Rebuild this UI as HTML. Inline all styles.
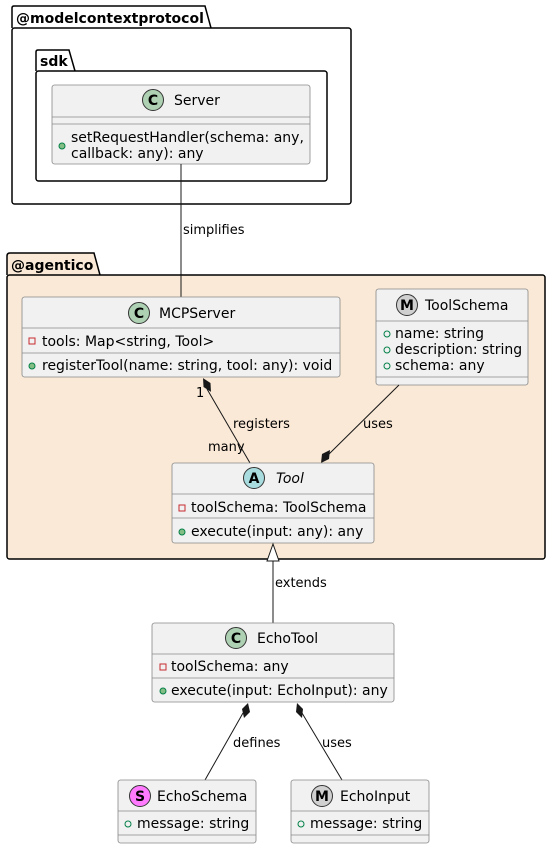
<!DOCTYPE html>
<html><head><meta charset="utf-8"><style>
html,body{margin:0;padding:0;background:#fff;width:551px;height:849px;overflow:hidden}
svg text{font-family:"DejaVu Sans","Liberation Sans",sans-serif;fill:#000}
.n{font-size:14px}.m{font-size:14px}.l{font-size:13px}.p{font-size:14px;font-weight:bold}
</style></head><body>
<svg width="551" height="849" viewBox="0 0 551 849" xmlns="http://www.w3.org/2000/svg">
<path d="M12,28 L12,8 Q12,6 14,6 L205,6 L211,28" fill="#fff" stroke="#000" stroke-width="1.5"/>
<rect x="12" y="28" width="339" height="176" rx="2.5" fill="#fff" stroke="#000" stroke-width="1.5"/>
<text x="16" y="23" class="p">@modelcontextprotocol</text>
<path d="M36,71 L36,52 Q36,50 38,50 L69,50 L75,71" fill="#fff" stroke="#000" stroke-width="1.5"/>
<rect x="36" y="71" width="291" height="110" rx="2.5" fill="#fff" stroke="#000" stroke-width="1.5"/>
<text x="40" y="66" class="p">sdk</text>
<rect x="52" y="85" width="258" height="79" rx="2.5" fill="#f1f1f1" stroke="#888" stroke-width="0.8"/>
<line x1="52" y1="117" x2="310" y2="117" stroke="#888" stroke-width="0.8"/>
<line x1="52" y1="124" x2="310" y2="124" stroke="#888" stroke-width="0.8"/>
<circle cx="153" cy="100" r="10.5" fill="#add1b2" stroke="#333" stroke-width="1"/>
<text x="153" y="105" class="n" text-anchor="middle" font-weight="bold">C</text>
<text x="174" y="105" class="n">Server</text>
<circle cx="62" cy="146" r="3" fill="#84be84" stroke="#038048" stroke-width="1"/>
<text x="71" y="142" class="m">setRequestHandler(schema: any,</text>
<text x="71" y="158" class="m">callback: any): any</text>
<line x1="181" y1="164" x2="181" y2="297" stroke="#181818" stroke-width="1"/>
<text x="183" y="234" class="l">simplifies</text>
<path d="M7,275 L7,256 Q7,253 10,253 L94,253 L100,275" fill="#fae9d6" stroke="#000" stroke-width="1.5"/>
<rect x="7" y="275" width="538" height="284" rx="2.5" fill="#fae9d6" stroke="#000" stroke-width="1.5"/>
<text x="11" y="270" class="p">@agentico</text>
<line x1="181" y1="275" x2="181" y2="297" stroke="#181818" stroke-width="1"/>
<rect x="22" y="297" width="318" height="80" rx="2.5" fill="#f1f1f1" stroke="#888" stroke-width="0.8"/>
<line x1="22" y1="328" x2="340" y2="328" stroke="#888" stroke-width="0.8"/>
<line x1="22" y1="353" x2="340" y2="353" stroke="#888" stroke-width="0.8"/>
<circle cx="139" cy="313" r="10.5" fill="#add1b2" stroke="#333" stroke-width="1"/>
<text x="139" y="318" class="n" text-anchor="middle" font-weight="bold">C</text>
<text x="159" y="318" class="n">MCPServer</text>
<rect x="29" y="338" width="6" height="6" fill="none" stroke="#c82930" stroke-width="1"/>
<text x="42" y="346" class="m">tools: Map&lt;string, Tool&gt;</text>
<circle cx="32" cy="366" r="3" fill="#84be84" stroke="#038048" stroke-width="1"/>
<text x="42" y="370" class="m">registerTool(name: string, tool: any): void</text>
<rect x="376" y="289" width="152" height="96" rx="2.5" fill="#f1f1f1" stroke="#888" stroke-width="0.8"/>
<line x1="376" y1="321" x2="528" y2="321" stroke="#888" stroke-width="0.8"/>
<line x1="376" y1="377" x2="528" y2="377" stroke="#888" stroke-width="0.8"/>
<circle cx="407" cy="305" r="10.5" fill="#d0d0d0" stroke="#333" stroke-width="1"/>
<text x="407" y="310" class="n" text-anchor="middle" font-weight="bold">M</text>
<text x="425" y="310" class="n">ToolSchema</text>
<circle cx="387" cy="334" r="3" fill="none" stroke="#038048" stroke-width="1"/>
<text x="395" y="338" class="m">name: string</text>
<circle cx="387" cy="350" r="3" fill="none" stroke="#038048" stroke-width="1"/>
<text x="395" y="354" class="m">description: string</text>
<circle cx="387" cy="366" r="3" fill="none" stroke="#038048" stroke-width="1"/>
<text x="395" y="370" class="m">schema: any</text>
<line x1="207" y1="389" x2="250" y2="463" stroke="#181818" stroke-width="1"/>
<polygon points="207,377 211,385 207,393 203,385" fill="#181818" transform="rotate(-30 207 385)"/>
<text x="196" y="397" class="l">1</text>
<text x="233" y="428" class="l">registers</text>
<text x="208" y="451" class="l">many</text>
<line x1="399" y1="385" x2="327" y2="456" stroke="#181818" stroke-width="1"/>
<polygon points="321,463 322,454 330,450 329,459" fill="#181818"/>
<text x="363" y="428" class="l">uses</text>
<rect x="172" y="463" width="202" height="80" rx="2.5" fill="#f1f1f1" stroke="#888" stroke-width="0.8"/>
<line x1="172" y1="494" x2="374" y2="494" stroke="#888" stroke-width="0.8"/>
<line x1="172" y1="518" x2="374" y2="518" stroke="#888" stroke-width="0.8"/>
<circle cx="254" cy="478" r="10.5" fill="#a9dcdf" stroke="#333" stroke-width="1"/>
<text x="254" y="483" class="n" text-anchor="middle" font-weight="bold">A</text>
<text x="276" y="483" class="n" font-style="italic">Tool</text>
<rect x="179" y="505" width="6" height="6" fill="none" stroke="#c82930" stroke-width="1"/>
<text x="191" y="512" class="m">toolSchema: ToolSchema</text>
<circle cx="182" cy="532" r="3" fill="#84be84" stroke="#038048" stroke-width="1"/>
<text x="191" y="536" class="m">execute(input: any): any</text>
<polygon points="273,544 267,561 279,561" fill="#fff" stroke="#181818" stroke-width="1"/>
<line x1="273" y1="561" x2="273" y2="623" stroke="#181818" stroke-width="1"/>
<text x="275" y="587" class="l">extends</text>
<rect x="152" y="623" width="242" height="79" rx="2.5" fill="#f1f1f1" stroke="#888" stroke-width="0.8"/>
<line x1="152" y1="654" x2="394" y2="654" stroke="#888" stroke-width="0.8"/>
<line x1="152" y1="678" x2="394" y2="678" stroke="#888" stroke-width="0.8"/>
<circle cx="236" cy="638" r="10.5" fill="#add1b2" stroke="#333" stroke-width="1"/>
<text x="236" y="643" class="n" text-anchor="middle" font-weight="bold">C</text>
<text x="257" y="643" class="n">EchoTool</text>
<rect x="160" y="664" width="6" height="6" fill="none" stroke="#c82930" stroke-width="1"/>
<text x="171" y="671" class="m">toolSchema: any</text>
<circle cx="163" cy="691" r="3" fill="#84be84" stroke="#038048" stroke-width="1"/>
<text x="171" y="695" class="m">execute(input: EchoInput): any</text>
<line x1="243" y1="713" x2="205" y2="780" stroke="#181818" stroke-width="1"/>
<polygon points="248,703 250,712 244,718 242,709" fill="#181818"/>
<text x="233" y="747" class="l">defines</text>
<line x1="302" y1="713" x2="342" y2="780" stroke="#181818" stroke-width="1"/>
<polygon points="297,703 303,709 302,718 296,712" fill="#181818"/>
<text x="322" y="747" class="l">uses</text>
<rect x="118" y="780" width="138" height="63" rx="2.5" fill="#f1f1f1" stroke="#888" stroke-width="0.8"/>
<line x1="118" y1="811" x2="256" y2="811" stroke="#888" stroke-width="0.8"/>
<line x1="118" y1="835" x2="256" y2="835" stroke="#888" stroke-width="0.8"/>
<circle cx="140" cy="796" r="10.5" fill="#ff7aff" stroke="#333" stroke-width="1"/>
<text x="140" y="801" class="n" text-anchor="middle" font-weight="bold">S</text>
<text x="157" y="801" class="n">EchoSchema</text>
<circle cx="128" cy="824" r="3" fill="none" stroke="#038048" stroke-width="1"/>
<text x="137" y="828" class="m">message: string</text>
<rect x="291" y="780" width="138" height="63" rx="2.5" fill="#f1f1f1" stroke="#888" stroke-width="0.8"/>
<line x1="291" y1="811" x2="429" y2="811" stroke="#888" stroke-width="0.8"/>
<line x1="291" y1="835" x2="429" y2="835" stroke="#888" stroke-width="0.8"/>
<circle cx="322" cy="796" r="10.5" fill="#d0d0d0" stroke="#333" stroke-width="1"/>
<text x="322" y="801" class="n" text-anchor="middle" font-weight="bold">M</text>
<text x="340" y="801" class="n">EchoInput</text>
<circle cx="301" cy="824" r="3" fill="none" stroke="#038048" stroke-width="1"/>
<text x="310" y="828" class="m">message: string</text>
</svg>
</body></html>
